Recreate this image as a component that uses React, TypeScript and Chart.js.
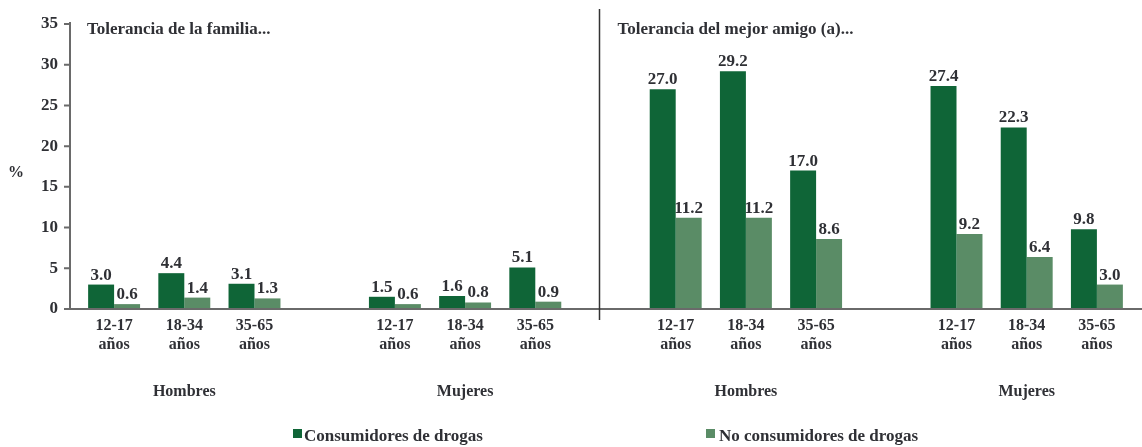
import React, { useEffect, useRef } from "react";
import { Chart, registerables } from "chart.js";

Chart.register(...registerables);

const ageGroups = ["12-17", "18-34", "35-65"];
const sexes = ["Hombres", "Mujeres"];
const panelTitles = ["Tolerancia de la familia...", "Tolerancia del mejor amigo (a)..."];
const seriesNames = ["Consumidores de drogas", "No consumidores de drogas"];

const familiaConsumidores = [3.0, 4.4, 3.1, 1.5, 1.6, 5.1];
const familiaNoConsumidores = [0.6, 1.4, 1.3, 0.6, 0.8, 0.9];
const amigoConsumidores = [27.0, 29.2, 17.0, 27.4, 22.3, 9.8];
const amigoNoConsumidores = [11.2, 11.2, 8.6, 9.2, 6.4, 3.0];

const yTicks = [0, 5, 10, 15, 20, 25, 30, 35];

const DARK = "#0f6537";
const LIGHT = "#5a8c66";
const TEXT = "#2f3035";
const AXIS = "#6a6a6a";
const FONT = "'Liberation Serif', 'Times New Roman', serif";

const AXIS_X = 70; // pixel position of the drawn y-axis line

type Slot = { label: string[] | string; panel: number; sex: number; idx: number | null };
const slots: Slot[] = [];
panelTitles.forEach((_, p) => {
  sexes.forEach((_, s) => {
    if (slots.length > 0) slots.push({ label: "", panel: p, sex: s, idx: null });
    ageGroups.forEach((a, ai) => {
      slots.push({ label: [a, "años"], panel: p, sex: s, idx: s * ageGroups.length + ai });
    });
  });
});

const consSeries = slots.map((sl) =>
  sl.idx === null ? null : sl.panel === 0 ? familiaConsumidores[sl.idx] : amigoConsumidores[sl.idx]
);
const noConsSeries = slots.map((sl) =>
  sl.idx === null ? null : sl.panel === 0 ? familiaNoConsumidores[sl.idx] : amigoNoConsumidores[sl.idx]
);

const overlayPlugin = {
  id: "overlay",
  afterDatasetsDraw(chart: any) {
    const ctx = chart.ctx;
    const xs = chart.scales.x;
    const ys = chart.scales.y;
    const area = chart.chartArea;
    ctx.save();
    // axes
    ctx.strokeStyle = AXIS;
    ctx.lineWidth = 2;
    ctx.beginPath();
    ctx.moveTo(AXIS_X, ys.getPixelForValue(35) - 2);
    ctx.lineTo(AXIS_X, area.bottom + 1);
    ctx.moveTo(AXIS_X - 1, area.bottom);
    ctx.lineTo(1142, area.bottom);
    yTicks.forEach((t) => {
      const y = ys.getPixelForValue(t);
      ctx.moveTo(AXIS_X - 6, y);
      ctx.lineTo(AXIS_X, y);
    });
    ctx.stroke();

    // value labels
    ctx.font = `bold 17px ${FONT}`;
    ctx.fillStyle = TEXT;
    ctx.textAlign = "center";
    ctx.textBaseline = "alphabetic";
    chart.data.datasets.forEach((ds: any, di: number) => {
      const meta = chart.getDatasetMeta(di);
      meta.data.forEach((el: any, i: number) => {
        const v = ds.data[i];
        if (v === null || v === undefined) return;
        ctx.fillText(v.toFixed(1), el.x, el.y - 5);
      });
    });
    // divider between panels
    const firstRight = slots.findIndex((s) => s.panel === 1);
    const divX = xs.getPixelForValue(firstRight) - 6;
    ctx.strokeStyle = "#333";
    ctx.lineWidth = 1.5;
    ctx.beginPath();
    ctx.moveTo(divX, 9);
    ctx.lineTo(divX, area.bottom + 11);
    ctx.stroke();
    // panel titles
    ctx.textAlign = "left";
    ctx.fillText(panelTitles[0], AXIS_X + 17, 34);
    ctx.fillText(panelTitles[1], divX + 18, 34);
    // group labels (sex)
    ctx.textAlign = "center";
    ctx.font = `bold 16px ${FONT}`;
    panelTitles.forEach((_, p) => {
      sexes.forEach((sx, s) => {
        const mid = slots.findIndex((sl) => sl.panel === p && sl.sex === s && sl.idx === s * 3 + 1);
        ctx.fillText(sx, xs.getPixelForValue(mid), 396);
      });
    });
    // % label
    ctx.fillText("%", 16, 177);
    // legend
    ctx.font = `bold 17px ${FONT}`;
    const legendX = [293, 706];
    seriesNames.forEach((name, i) => {
      ctx.fillStyle = i === 0 ? DARK : LIGHT;
      ctx.fillRect(legendX[i], 429, 9, 9);
      ctx.fillStyle = TEXT;
      ctx.textAlign = "left";
      ctx.fillText(name, legendX[i] + (i === 0 ? 11 : 13), 441);
    });
    ctx.restore();
  },
};

export default function App() {
  const ref = useRef<HTMLCanvasElement | null>(null);
  useEffect(() => {
    if (!ref.current) return;
    const chart = new Chart(ref.current, {
      type: "bar",
      data: {
        labels: slots.map((s) => s.label),
        datasets: [
          {
            label: seriesNames[0],
            data: consSeries,
            backgroundColor: DARK,
            categoryPercentage: 0.74,
            barPercentage: 1,
          } as any,
          {
            label: seriesNames[1],
            data: noConsSeries,
            backgroundColor: LIGHT,
            categoryPercentage: 0.74,
            barPercentage: 1,
          } as any,
        ],
      },
      options: {
        responsive: false,
        animation: false,
        layout: { padding: { top: 24, right: 10, left: 0, bottom: 0 } },
        plugins: { legend: { display: false }, tooltip: { enabled: false } },
        scales: {
          x: {
            grid: { display: false, drawTicks: false },
            border: { display: false },
            ticks: {
              color: TEXT,
              font: { family: FONT, size: 16, weight: "bold", lineHeight: 1.15 },
              padding: 8,
              maxRotation: 0,
              autoSkip: false,
            },
            afterFit: (scale: any) => {
              scale.height = 138;
              scale.paddingLeft = 0;
              scale.paddingRight = 0;
            },
          },
          y: {
            min: 0,
            max: 35,
            afterBuildTicks: (scale: any) => {
              scale.ticks = yTicks.map((v) => ({ value: v }));
            },
            grid: { display: false, drawTicks: false },
            border: { display: false },
            ticks: {
              color: TEXT,
              font: { family: FONT, size: 17, weight: "bold" },
              padding: 21,
            },
            afterFit: (scale: any) => {
              scale.width = 79;
              scale.paddingTop = 0;
              scale.paddingBottom = 0;
            },
          },
        },
      },
      plugins: [overlayPlugin],
    });
    return () => chart.destroy();
  }, []);
  return (
    <div style={{ position: "absolute", left: 0, top: 0, width: 1142, height: 447, background: "#fff" }}>
      <canvas ref={ref} width={1142} height={447} style={{ display: "block" }} />
    </div>
  );
}
